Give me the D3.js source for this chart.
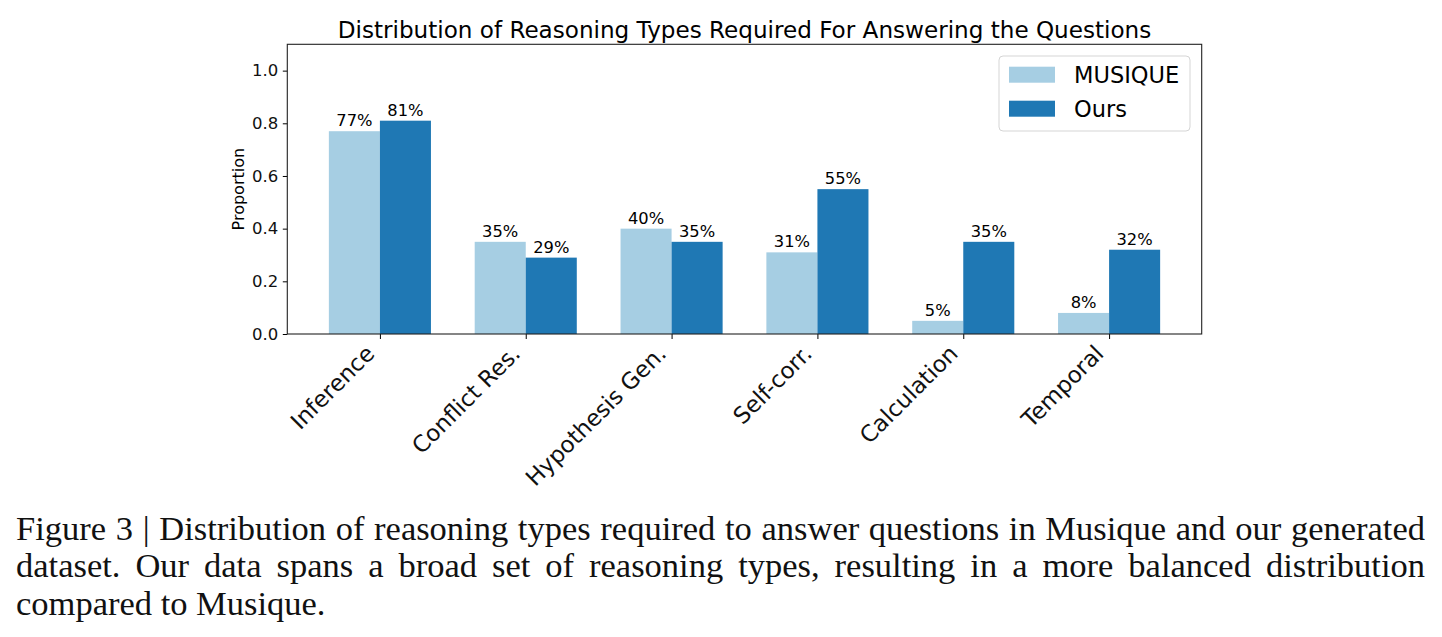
<!DOCTYPE html>
<html>
<head>
<meta charset="utf-8">
<script src="https://cdn.jsdelivr.net/npm/d3@7"></script>
<style>
  body { margin: 0; background: #fff; }
  #chart { position: absolute; left: 0; top: 0; }
  .caption {
    position: absolute; left: 16px; top: 509.6px; width: 1409px;
    font-family: "Liberation Serif", serif; font-size: 34.5px; line-height: 37.5px; color: #111;
  }
  .caption div.j { text-align: justify; text-align-last: justify; white-space: nowrap; }
</style>
</head>
<body>
<div id="chart"></div>
<div class="caption">
  <div class="j">Figure 3 | Distribution of reasoning types required to answer questions in Musique and our generated</div>
  <div class="j">dataset. Our data spans a broad set of reasoning types, resulting in a more balanced distribution</div>
  <div>compared to Musique.</div>
</div>
<script>
const categories = ["Inference", "Conflict Res.", "Hypothesis Gen.", "Self-corr.", "Calculation", "Temporal"];
const musique = [0.77, 0.35, 0.40, 0.31, 0.05, 0.08];
const ours = [0.81, 0.29, 0.35, 0.55, 0.35, 0.32];
const seriesNames = ["MUSIQUE", "Ours"];
const yTicks = [0, 0.2, 0.4, 0.6, 0.8, 1.0];

const colors = ["#a6cee3", "#1f78b4"];
const barWidth = 0.35;
const margin = { top: 44.3, left: 287.3 };
const width = 914.4, height = 289.7;
const font = "DejaVu Sans, sans-serif";

const svg = d3.select("#chart").append("svg")
  .attr("width", 1442).attr("height", 500);

const g = svg.append("g")
  .attr("transform", "translate(" + margin.left + "," + margin.top + ")");

let x = d3.scaleLinear()
  .domain([-0.635, categories.length - 1 + 0.635])
  .range([0, width]);
let y = d3.scaleLinear()
  .domain([0, 1.1])
  .range([height, 0]);

// title
svg.append("text")
  .attr("x", margin.left + width / 2).attr("y", 37.5)
  .attr("text-anchor", "middle")
  .style("font-family", font).style("font-size", "23.1px")
  .text("Distribution of Reasoning Types Required For Answering the Questions");

// bars
const series = [musique, ours];
series.forEach(function(vals, s) {
  const off = s === 0 ? -barWidth / 2 : barWidth / 2;
  g.selectAll(".bar" + s)
    .data(vals)
    .enter()
    .append("rect")
    .attr("x", function(d, i) { return x(i + off - barWidth / 2); })
    .attr("width", x(barWidth) - x(0))
    .attr("y", function(d) { return y(d); })
    .attr("height", function(d) { return y(0) - y(d); })
    .style("fill", colors[s]);
  g.selectAll(".lbl" + s)
    .data(vals)
    .enter()
    .append("text")
    .attr("x", function(d, i) { return x(i + off); })
    .attr("y", function(d) { return y(d) - 5; })
    .attr("text-anchor", "middle")
    .style("font-family", font).style("font-size", "16.3px")
    .text(function(d) { return Math.round(d * 100) + "%"; });
});

// axes
const yAxis = g.append("g")
  .call(d3.axisLeft(y).tickValues(yTicks).tickFormat(d3.format(".1f")).tickSize(4.5).tickPadding(4.5));
yAxis.select(".domain").remove();
yAxis.selectAll("text").style("font-family", font).style("font-size", "16.5px").attr("fill", "#111");

const xAxis = g.append("g")
  .attr("transform", "translate(0," + height + ")")
  .call(d3.axisBottom(x).tickValues(d3.range(categories.length)).tickFormat("").tickSize(5));
xAxis.select(".domain").remove();

xAxis.selectAll(".xl")
  .data(categories)
  .enter()
  .append("text")
  .attr("transform", function(d, i) { return "translate(" + (x(i) - 4) + ",21) rotate(-45)"; })
  .attr("text-anchor", "end")
  .attr("fill", "#111")
  .style("font-family", font).style("font-size", "22.8px")
  .text(function(d) { return d; });

// spines
g.append("rect")
  .attr("width", width).attr("height", height)
  .attr("fill", "none").attr("stroke", "#222").attr("stroke-width", 1.1);

// y label
svg.append("text")
  .attr("transform", "translate(244," + (margin.top + height / 2) + ") rotate(-90)")
  .attr("text-anchor", "middle")
  .style("font-family", font).style("font-size", "16px")
  .text("Proportion");

// legend
const leg = svg.append("g").attr("transform", "translate(999,56)");
leg.append("rect")
  .attr("width", 191).attr("height", 75).attr("rx", 4)
  .attr("fill", "#fff").attr("fill-opacity", 0.8)
  .attr("stroke", "#d5d5d5");
seriesNames.forEach(function(name, i) {
  leg.append("rect")
    .attr("x", 10).attr("y", 10.7 + i * 34).attr("width", 46).attr("height", 16)
    .style("fill", colors[i]);
  leg.append("text")
    .attr("x", 75).attr("y", 26.7 + i * 34)
    .style("font-family", font).style("font-size", "22.5px")
    .text(name);
});
</script>
</body>
</html>
